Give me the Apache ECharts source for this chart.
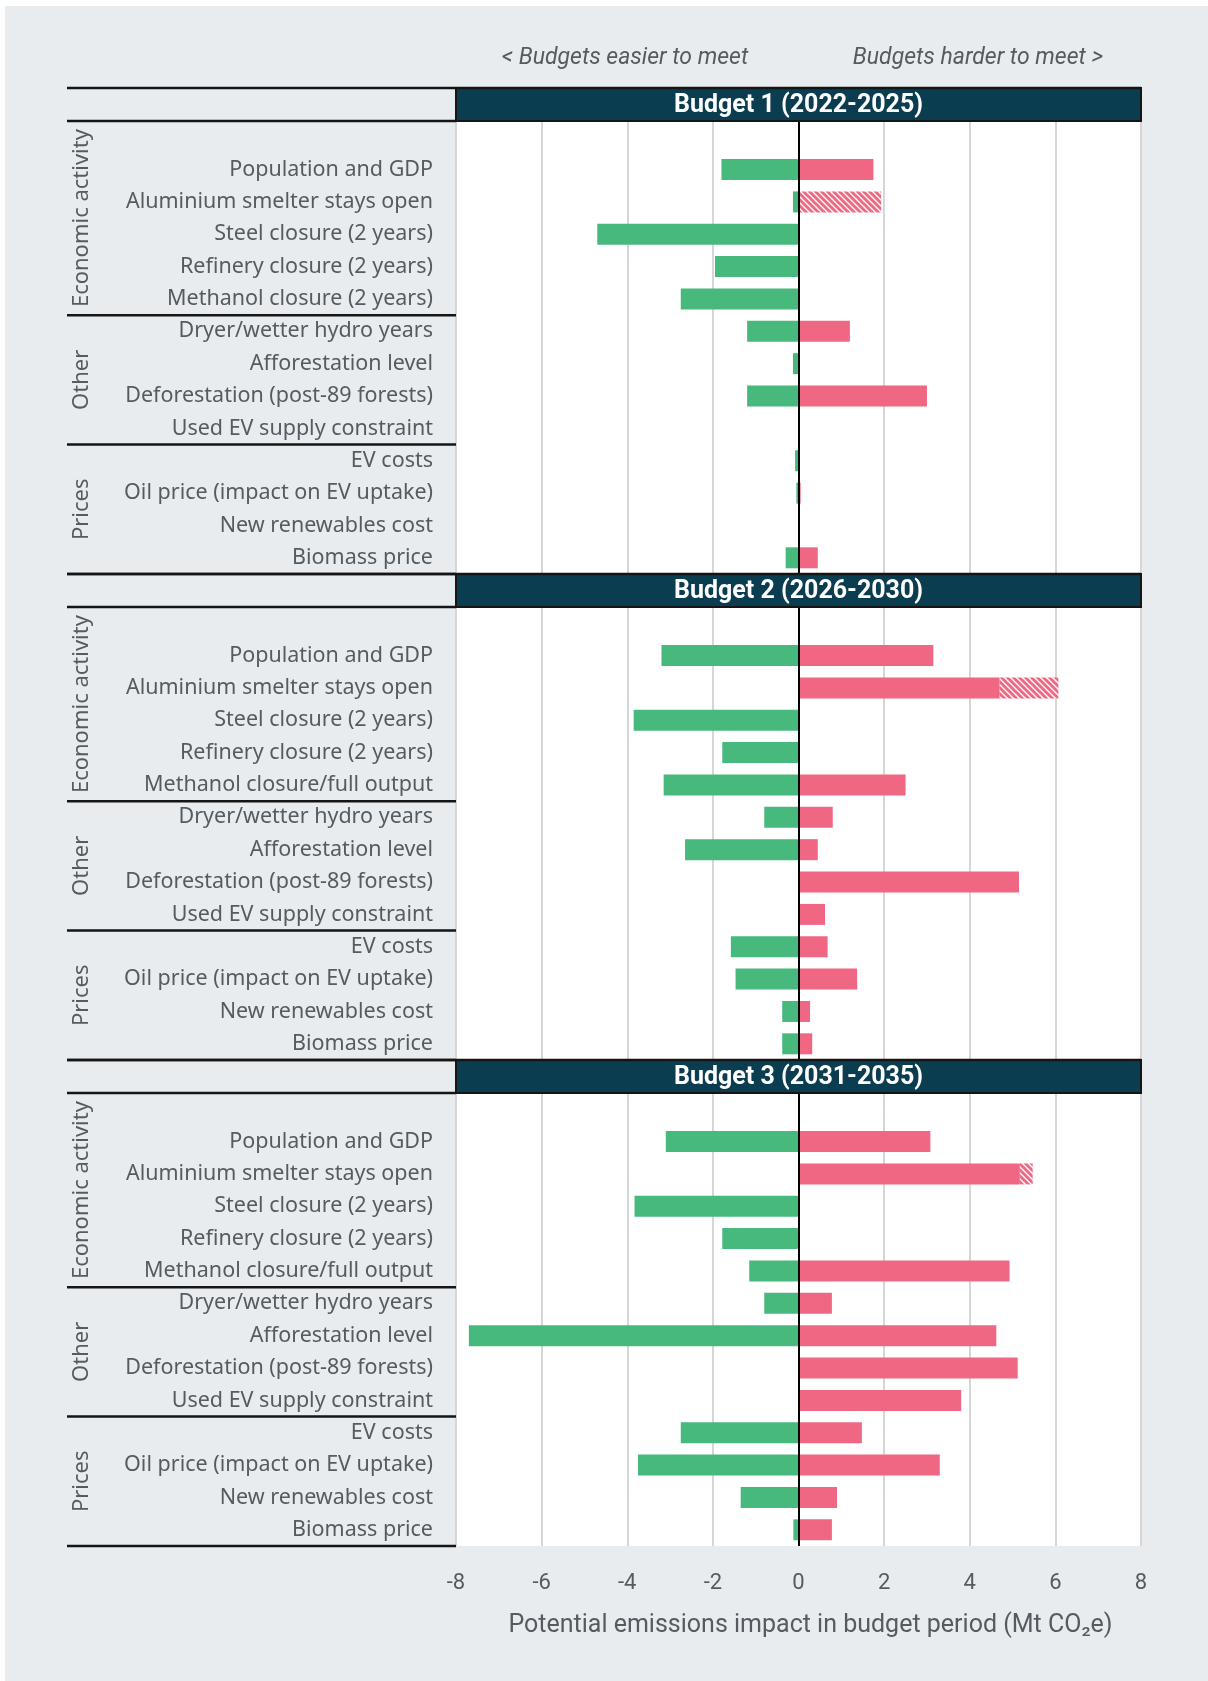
<!DOCTYPE html>
<html>
<head>
<meta charset="utf-8">
<title>Budget sensitivities</title>
<script src="https://cdn.jsdelivr.net/npm/echarts@6/dist/echarts.min.js"></script>
<style>
  html, body { margin: 0; padding: 0; background: #fff; }
  #chart { width: 1208px; height: 1681px; }
</style>
</head>
<body>
<div id="chart"></div>
<script>
// --- data ---
const budgetTitles = ['Budget 1 (2022-2025)', 'Budget 2 (2026-2030)', 'Budget 3 (2031-2035)']
const groupNames = ['Economic activity', 'Other', 'Prices']
const groupSizes = [5, 4, 4]

const factorsB1 = [
  'Population and GDP', 'Aluminium smelter stays open', 'Steel closure (2 years)',
  'Refinery closure (2 years)', 'Methanol closure (2 years)',
  'Dryer/wetter hydro years', 'Afforestation level', 'Deforestation (post-89 forests)',
  'Used EV supply constraint',
  'EV costs', 'Oil price (impact on EV uptake)', 'New renewables cost', 'Biomass price'
]
const factorsB23 = [
  'Population and GDP', 'Aluminium smelter stays open', 'Steel closure (2 years)',
  'Refinery closure (2 years)', 'Methanol closure/full output',
  'Dryer/wetter hydro years', 'Afforestation level', 'Deforestation (post-89 forests)',
  'Used EV supply constraint',
  'EV costs', 'Oil price (impact on EV uptake)', 'New renewables cost', 'Biomass price'
]

// easier to meet (negative), harder to meet (positive), extra hatched part of harder
const easierB1 = [-1.8, -0.13, -4.7, -1.95, -2.75, -1.2, -0.13, -1.2, null, -0.08, -0.05, null, -0.3]
const harderB1 = [1.75, null, null, null, null, 1.2, null, 3.0, null, null, 0.05, null, 0.45]
const hatchB1 = [null, 1.93, null, null, null, null, null, null, null, null, null, null, null]

const easierB2 = [-3.2, null, -3.85, -1.78, -3.15, -0.8, -2.65, null, null, -1.58, -1.47, -0.38, -0.38]
const harderB2 = [3.15, 4.7, null, null, 2.5, 0.8, 0.45, 5.15, 0.62, 0.68, 1.37, 0.27, 0.32]
const hatchB2 = [null, 1.37, null, null, null, null, null, null, null, null, null, null, null]

const easierB3 = [-3.1, null, -3.83, -1.78, -1.15, -0.8, -7.7, null, null, -2.75, -3.75, -1.35, -0.12]
const harderB3 = [3.08, 5.17, null, null, 4.93, 0.78, 4.62, 5.12, 3.8, 1.48, 3.3, 0.9, 0.78]
const hatchB3 = [null, 0.3, null, null, null, null, null, null, null, null, null, null, null]

const xTicks = { min: -8, max: 8, interval: 2 }

const panels = [
  { title: budgetTitles[0], factors: factorsB1, easier: easierB1, harder: harderB1, hatch: hatchB1 },
  { title: budgetTitles[1], factors: factorsB23, easier: easierB2, harder: harderB2, hatch: hatchB2 },
  { title: budgetTitles[2], factors: factorsB23, easier: easierB3, harder: harderB3, hatch: hatchB3 }
]

// --- layout ---
const PANEL_TOP = 88
const HEADER_H = 33
const PLOT_H = 453
const PANEL_STEP = 486
const PLOT_LEFT = 456
const PLOT_RIGHT = 1141
const LABEL_LEFT = 67
const SLOTS = 14 // one empty row on top + 13 factors

const GREEN = '#47b97d'
const RED = '#ef6782'
const NAVY = '#0b3d51'
const TEXT = '#555b60'
const LINE = '#151515'

function hatchPattern() {
  const c = document.createElement('canvas')
  c.width = 6
  c.height = 6
  const ctx = c.getContext('2d')
  ctx.fillStyle = '#ffffff'
  ctx.fillRect(0, 0, 6, 6)
  ctx.strokeStyle = RED
  ctx.lineWidth = 2.8
  for (const off of [-6, 0, 6]) {
    ctx.beginPath()
    ctx.moveTo(off - 1, -1)
    ctx.lineTo(off + 7, 7)
    ctx.stroke()
  }
  return c
}
const hatchImg = hatchPattern()

const grids = []
const xAxes = []
const yAxes = []
const series = []
const graphics = []

// white frame strips at top/left
graphics.push({ type: 'rect', shape: { x: 0, y: 0, width: 1208, height: 6 }, style: { fill: '#fff' }, silent: true })
graphics.push({ type: 'rect', shape: { x: 0, y: 0, width: 5, height: 1681 }, style: { fill: '#fff' }, silent: true })

graphics.push({
  type: 'text', x: 625, y: 58,
  style: { text: '< Budgets easier to meet', font: 'italic 23px Roboto', fill: TEXT, align: 'center', verticalAlign: 'middle' }
})
graphics.push({
  type: 'text', x: 978, y: 58,
  style: { text: 'Budgets harder to meet >', font: 'italic 23px Roboto', fill: TEXT, align: 'center', verticalAlign: 'middle' }
})

function hline(y, x1, x2, w) {
  graphics.push({
    type: 'line', silent: true, z: 10,
    shape: { x1: x1, y1: y, x2: x2, y2: y },
    style: { stroke: LINE, lineWidth: w || 2.5 }
  })
}

panels.forEach((p, i) => {
  const headerTop = PANEL_TOP + PANEL_STEP * i
  const plotTop = headerTop + HEADER_H
  const slot = PLOT_H / SLOTS

  grids.push({
    left: PLOT_LEFT, top: plotTop, width: PLOT_RIGHT - PLOT_LEFT, height: PLOT_H,
    show: true, backgroundColor: '#ffffff', borderWidth: 0
  })

  const last = i === panels.length - 1
  xAxes.push({
    type: 'value', gridIndex: i,
    min: xTicks.min, max: xTicks.max, interval: xTicks.interval,
    axisLine: { show: false },
    axisTick: { show: false },
    splitLine: { show: true, lineStyle: { color: '#d6d6d6', width: 2 } },
    axisLabel: { show: last, color: TEXT, fontSize: 22, fontFamily: 'Roboto', margin: 26 },
    name: last ? 'Potential emissions impact in budget period (Mt CO\u2082e)' : '',
    nameLocation: 'middle',
    nameGap: 67,
    nameTextStyle: { color: TEXT, fontSize: 25, fontFamily: 'Roboto', padding: [0, 0, 0, 24] }
  })

  yAxes.push({
    type: 'category', gridIndex: i, inverse: true,
    data: [''].concat(p.factors),
    axisLine: { show: false, onZero: false },
    axisTick: { show: false },
    splitLine: { show: false },
    axisLabel: { color: TEXT, fontSize: 21.5, fontFamily: 'Noto Sans', margin: 23 }
  })

  const empty = [null]
  series.push({
    name: 'Easier', type: 'bar', xAxisIndex: i, yAxisIndex: i, stack: 's' + i,
    data: empty.concat(p.easier), barWidth: 21,
    itemStyle: { color: GREEN },
    markLine: {
      silent: true, symbol: 'none', label: { show: false },
      lineStyle: { color: '#000', width: 2, type: 'solid' },
      data: [{ xAxis: 0 }],
      z: 5
    }
  })
  series.push({
    name: 'Harder', type: 'bar', xAxisIndex: i, yAxisIndex: i, stack: 's' + i,
    data: empty.concat(p.harder), barWidth: 21,
    itemStyle: { color: RED }
  })
  series.push({
    name: 'Harder (hatched)', type: 'bar', xAxisIndex: i, yAxisIndex: i, stack: 's' + i,
    data: empty.concat(p.hatch), barWidth: 21,
    itemStyle: { color: { image: hatchImg, repeat: 'repeat' } }
  })

  // header band
  graphics.push({
    type: 'rect', z: 9,
    shape: { x: PLOT_LEFT, y: headerTop, width: PLOT_RIGHT - PLOT_LEFT, height: HEADER_H },
    style: { fill: NAVY, stroke: LINE, lineWidth: 2 }
  })
  graphics.push({
    type: 'text', z: 11, x: (PLOT_LEFT + PLOT_RIGHT) / 2, y: headerTop + HEADER_H / 2 + 1,
    style: { text: p.title, font: 'bold 25px Roboto', fill: '#fff', align: 'center', verticalAlign: 'middle' }
  })
  hline(headerTop, LABEL_LEFT, PLOT_RIGHT)
  hline(plotTop, LABEL_LEFT, PLOT_LEFT)

  // group separators and rotated group names
  let start = 0
  groupSizes.forEach((n, g) => {
    const from = g === 0 ? 0 : start + 1
    const to = start + 1 + n
    const yFrom = plotTop + from * slot
    const yTo = plotTop + to * slot
    hline(yTo, LABEL_LEFT, PLOT_LEFT)
    graphics.push({
      type: 'text', x: 82, y: (yFrom + yTo) / 2, rotation: Math.PI / 2,
      style: { text: groupNames[g], font: '22px "Noto Sans"', fill: TEXT, align: 'center', verticalAlign: 'middle' }
    })
    start += n
  })
})

const chart = echarts.init(document.getElementById('chart'))
chart.setOption({
  backgroundColor: '#e8ecef',
  animation: false,
  grid: grids,
  xAxis: xAxes,
  yAxis: yAxes,
  series: series,
  graphic: graphics
})
</script>
</body>
</html>
